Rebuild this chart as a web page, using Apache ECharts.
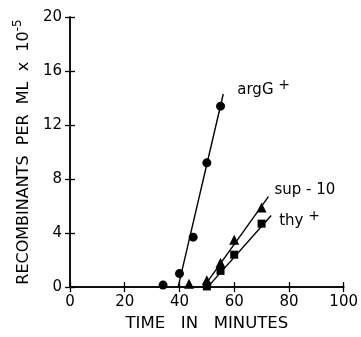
<!DOCTYPE html>
<html><head><meta charset="utf-8">
<script src="https://cdn.jsdelivr.net/npm/echarts@6/dist/echarts.min.js"></script>
<style>html,body{margin:0;padding:0;background:#fff}#c{width:361px;height:337px}</style>
</head><body><div id="c"></div>
<script>
const xTicks = [0, 20, 40, 60, 80, 100];
const yTicks = [0, 4, 8, 12, 16, 20];
const argTime = [34, 40, 45, 50, 55];
const argVal = [0.15, 1.0, 3.7, 9.2, 13.4];
const supTime = [43.5, 50, 55, 60, 70];
const supVal = [0.25, 0.5, 1.8, 3.5, 5.9];
const thyTime = [50, 55, 60, 70];
const thyVal = [0.05, 1.2, 2.4, 4.7];
const argFitX = [39.5, 56]; const argFitY = [0, 14.3];
const supFitX = [48.8, 72.5]; const supFitY = [0, 6.7];
const thyFitX = [50.3, 73.5]; const thyFitY = [0, 5.3];
const seriesNames = ['argG', 'sup - 10', 'thy'];

const zip = (a, b) => a.map((v, i) => [v, b[i]]);
const F = 'DejaVu Sans';
const chart = echarts.init(document.getElementById('c'));
const axLine = {show: true, lineStyle: {color: '#000', width: 1.5}};
const tick = {show: true, inside: true, length: 5, lineStyle: {color: '#000', width: 1.3}};
const supRich = {n: {fontFamily: F, fontSize: 15, color: '#000'}, s: {fontFamily: F, fontSize: 14, color: '#000', padding: [0, 0, 10, 0]}};
function fit(xs, ys, name, lbl) {
  return {type: 'line', data: zip(xs, ys), showSymbol: false, symbol: 'none', z: 1,
    lineStyle: {color: '#000', width: 1.4}, silent: true,
    endLabel: {show: true, formatter: lbl, offset: name.off, rich: supRich}};
}
chart.setOption({
  animation: false,
  backgroundColor: '#fff',
  grid: {left: 70, right: 14, top: 17, bottom: 47},
  xAxis: [{type: 'value', min: 0, max: 100, interval: 20, position: 'bottom',
    axisLine: axLine, axisTick: tick, splitLine: {show: false},
    axisLabel: {fontFamily: F, fontSize: 15, color: '#000', margin: 8},
    name: 'TIME   IN   MINUTES', nameLocation: 'middle', nameGap: 27,
    nameTextStyle: {fontFamily: F, fontSize: 16.5, color: '#000'}},
   {type: 'value', min: 0, max: 100, interval: 20, position: 'top',
    axisLine: axLine, axisTick: tick, splitLine: {show: false}, axisLabel: {show: false}}],
  yAxis: [{type: 'value', min: 0, max: 20, interval: 4, position: 'left',
    axisLine: axLine, axisTick: tick, splitLine: {show: false},
    axisLabel: {fontFamily: F, fontSize: 15, color: '#000', margin: 8},
    name: '{n|RECOMBINANTS  PER  ML  x  10}{s|-5}', nameLocation: 'middle', nameGap: 33, nameRotate: 90,
    nameTextStyle: {rich: {n: {fontFamily: F, fontSize: 16, color: '#000'}, s: {fontFamily: F, fontSize: 12, color: '#000', padding: [0, 0, 12, 0]}}}},
   {type: 'value', min: 0, max: 20, interval: 4, position: 'right',
    axisLine: axLine, axisTick: tick, splitLine: {show: false}, axisLabel: {show: false}}],
  series: [
    fit(argFitX, argFitY, {off: [6, -4]}, '{n|argG }{s|+}'),
    fit(supFitX, supFitY, {off: [-2, -7]}, '{n|sup - 10}'),
    fit(thyFitX, thyFitY, {off: [0, 6]}, '{n|thy }{s|+}'),
    {type: 'scatter', name: seriesNames[0], data: zip(argTime, argVal), symbol: 'circle', symbolSize: 9, z: 3,
      itemStyle: {color: '#000', opacity: 1}},
    {type: 'scatter', name: seriesNames[1], data: zip(supTime, supVal), symbol: 'triangle', symbolSize: 10, z: 3,
      itemStyle: {color: '#000', opacity: 1}},
    {type: 'scatter', name: seriesNames[2], data: zip(thyTime, thyVal), symbol: 'rect', symbolSize: 8, z: 3,
      itemStyle: {color: '#000', opacity: 1}}
  ]
});
</script></body></html>
